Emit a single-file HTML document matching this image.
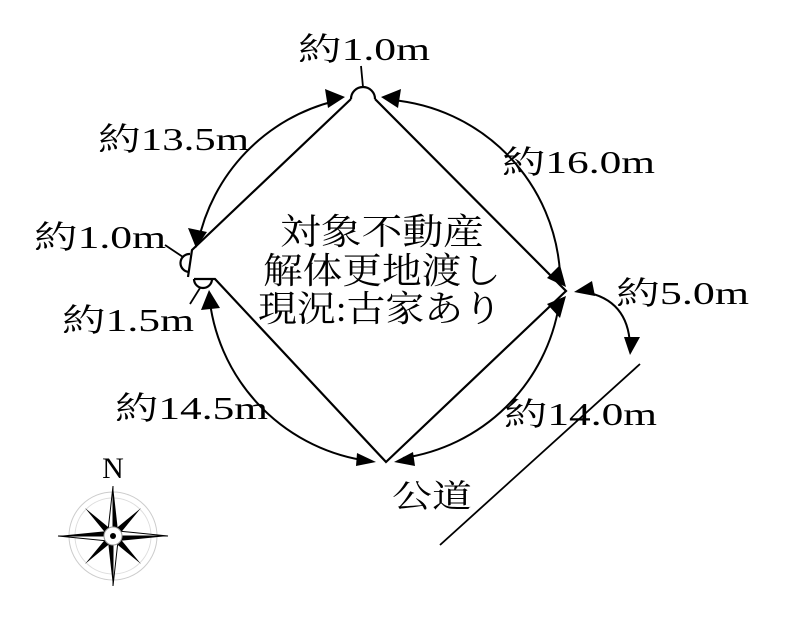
<!DOCTYPE html>
<html><head><meta charset="utf-8"><style>
html,body{margin:0;padding:0;background:#fff;}
svg{display:block;}
text{font-family:"Liberation Serif","Noto Serif CJK SC",serif;fill:#000;}
</style></head><body>
<svg width="785" height="618" viewBox="0 0 785 618" xmlns="http://www.w3.org/2000/svg">
<g fill="none" stroke="#000" stroke-width="2.2">
<path d="M351,99 L192,250 L188,277 M194,279 L215,279 L386,462 L566,291 L375,99"/>
<path d="M351,99 A12,12 0 0 1 375,99"/>
<path d="M190,254 A9,9 0 0 0 189,272"/>
<path d="M194,279 A9,9 0 0 0 212,279"/>
<line x1="363" y1="87" x2="361" y2="66" stroke-width="1.8"/>
<line x1="183" y1="257" x2="165" y2="245" stroke-width="1.8"/>
<line x1="200" y1="288" x2="190" y2="304" stroke-width="1.8"/>
<path d="M335,101 A185,185 0 0 0 198,243" stroke-width="2"/>
<path d="M392,100 A185,185 0 0 1 560,273" stroke-width="2"/>
<path d="M559,305 A185,185 0 0 1 403,458" stroke-width="2"/>
<path d="M362,460 A185,185 0 0 1 209,294" stroke-width="2"/>
<path d="M585,292 Q628,300 630,345" stroke-width="2"/>
<line x1="640" y1="364" x2="440" y2="545" stroke-width="1.8"/>
</g>
<g fill="#000">
<path d="M345,97 l-20,-8 l3,19z"/>
<path d="M381,97 l20,-8 l-3,19z"/>
<path d="M196,248 l-8,-20 l19,4z"/>
<path d="M209,290 l-8,20 l19,-2z"/>
<path d="M566,287 l-19,-9 l13,-13z"/>
<path d="M566,296 l-19,8 l13,14z"/>
<path d="M376,462 l-19,-9 l-1,13z"/>
<path d="M394,462 l19,-10 l2,14z"/>
<path d="M574,292 l18,-11 l3,15z"/>
<path d="M630,355 l-6,-18 l16,0z"/>
</g>
<g font-size="32">
<text x="298" y="60" textLength="132" lengthAdjust="spacingAndGlyphs">約1.0m</text>
<text x="98" y="150" textLength="151" lengthAdjust="spacingAndGlyphs">約13.5m</text>
<text x="502" y="173" textLength="153" lengthAdjust="spacingAndGlyphs">約16.0m</text>
<text x="34" y="248" textLength="132" lengthAdjust="spacingAndGlyphs">約1.0m</text>
<text x="62" y="331" textLength="132" lengthAdjust="spacingAndGlyphs">約1.5m</text>
<text x="616" y="304" textLength="133" lengthAdjust="spacingAndGlyphs">約5.0m</text>
<text x="115" y="419" textLength="153" lengthAdjust="spacingAndGlyphs">約14.5m</text>
<text x="504" y="425" textLength="153" lengthAdjust="spacingAndGlyphs">約14.0m</text>
<text x="392" y="507" textLength="80" lengthAdjust="spacingAndGlyphs">公道</text>
</g>
<g font-size="36">
<text x="280" y="244" textLength="204" lengthAdjust="spacingAndGlyphs">対象不動産</text>
<text x="263" y="283" textLength="238" lengthAdjust="spacingAndGlyphs">解体更地渡し</text>
<text x="258" y="321" textLength="244" lengthAdjust="spacingAndGlyphs">現況:古家あり</text>
</g>
<g transform="translate(113,536)">
<circle r="44" fill="none" stroke="#ccc" stroke-width="1"/>
<circle r="38" fill="none" stroke="#ddd" stroke-width="1"/>
<path d="M0,-50 L5,-5 L0,0z" fill="#000"/><path d="M0,-50 L-5,-5 L0,0z" fill="#fff" stroke="#000"/>
<path d="M0,50 L-5,5 L0,0z" fill="#000"/><path d="M0,50 L5,5 L0,0z" fill="#fff" stroke="#000"/>
<path d="M-55,0 L-5,-5 L0,0z" fill="#000"/><path d="M-55,0 L-5,5 L0,0z" fill="#fff" stroke="#000"/>
<path d="M55,0 L5,5 L0,0z" fill="#000"/><path d="M55,0 L5,-5 L0,0z" fill="#fff" stroke="#000"/>
<path d="M-28,-28 L0,-5 L-5,0z M28,-28 L5,0 L0,-5z M28,28 L0,5 L5,0z M-28,28 L-5,0 L0,5z" fill="#000"/>
<circle r="9" fill="#fff" stroke="#999"/>
<circle r="3" fill="#000"/>
</g>
<text x="113" y="478" font-size="30" text-anchor="middle">N</text>
</svg>
</body></html>
